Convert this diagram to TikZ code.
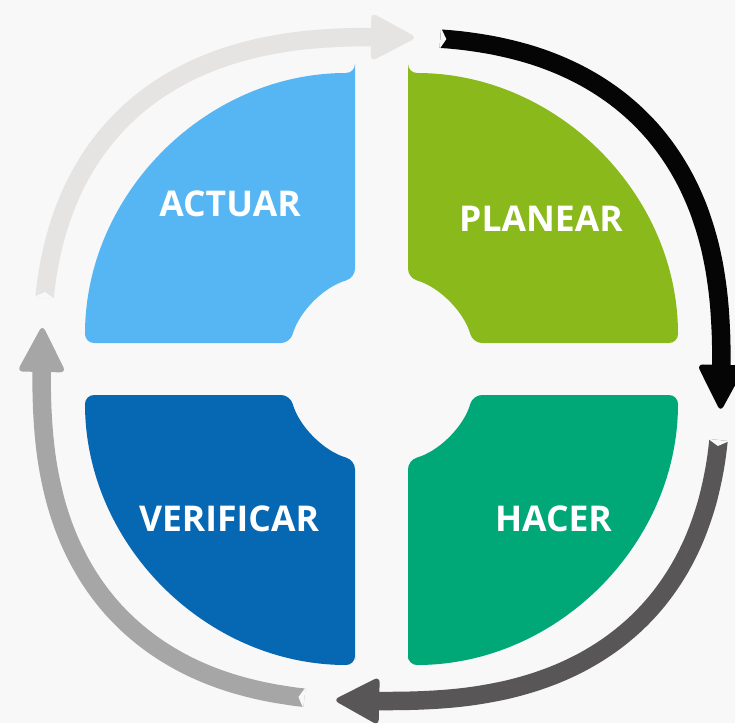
\documentclass[tikz,border=0pt]{standalone}
\usepackage{fontspec}
\setmainfont{Open Sans}
\usetikzlibrary{calc}
\definecolor{bg}{HTML}{F8F8F8}
\definecolor{cact}{HTML}{56B5F3}
\definecolor{cpla}{HTML}{89B91B}
\definecolor{cver}{HTML}{0668B2}
\definecolor{chac}{HTML}{00A878}
\definecolor{alight}{HTML}{E6E3E3}
\definecolor{ablack}{HTML}{050505}
\definecolor{adark}{HTML}{585656}
\definecolor{amid}{HTML}{A6A6A6}
\begin{document}
\begin{tikzpicture}[x=1pt,y=1pt,
  declare function={
    rr(\p)=340/pow(pow(abs(cos(\p))+0.00001,2.5)+pow(1.0241*abs(sin(\p))+0.00001,2.5),0.4);
  },
  quad/.style={rounded corners=9pt},
  lbl/.style={text=white, font=\bfseries\fontsize{35.5}{40}\selectfont, inner sep=0pt},
  shaft/.style={line width=18.5pt},
  head/.style={rounded corners=6pt},
]
\fill[bg] (-381.5,-354) rectangle (353.5,369);
\useasboundingbox (-381.5,-354) rectangle (353.5,369);

\foreach \sx/\sy/\col in {1/1/cpla, -1/1/cact, 1/-1/chac, -1/-1/cver}{
  \fill[\col, quad, xscale=\sx, yscale=\sy]
    (26.5,296) -- (26.5,91.2) arc[start angle=73.8, end angle=15.9, radius=95]
    -- (296.5,26) arc[start angle=0, end angle=90, radius=270] -- cycle;
}

\node[lbl] (actuar) at (-151.5,165) {ACTUAR};
\node[lbl] (planear) at (159.5,150.5) {PLANEAR};
\node[lbl] (verificar) at (-152.5,-149.5) {VERIFICAR};
\node[lbl] (hacer) at (172,-149.5) {HACER};

\foreach \a/\b/\col in {168.1/83.9/alight, 79.9/-7.2/ablack, -11.9/-98.3/adark, -103.2/-187.4/amid}{
  \pgfmathsetmacro\e{\b+4}
  \pgfmathsetmacro\bb{\b+7.9}
  \pgfmathsetmacro\ss{\a-2}
  \draw[\col, shaft] plot[domain=\a:\e, samples=50, smooth, variable=\p]
    ({rr(\p)*cos(\p)},{rr(\p)*sin(\p)});
  \coordinate (tip) at ({rr(\b)*cos(\b)},{rr(\b)*sin(\b)});
  \coordinate (back) at ({rr(\bb)*cos(\bb)},{rr(\bb)*sin(\bb)});
  \fill[\col, head] (tip) -- ($(back)!24.5pt!90:(tip)$) -- ($(back)!24.5pt!-90:(tip)$) -- cycle;
  \coordinate (tail) at ({rr(\a)*cos(\a)},{rr(\a)*sin(\a)});
  \coordinate (tailb) at ({rr(\ss)*cos(\ss)},{rr(\ss)*sin(\ss)});
  \fill[bg] ($(tail)!10.5pt!90:(tailb)$) -- ($(tail)!6pt!(tailb)$) -- ($(tail)!10.5pt!-90:(tailb)$) -- cycle;
}
\end{tikzpicture}
\end{document}
